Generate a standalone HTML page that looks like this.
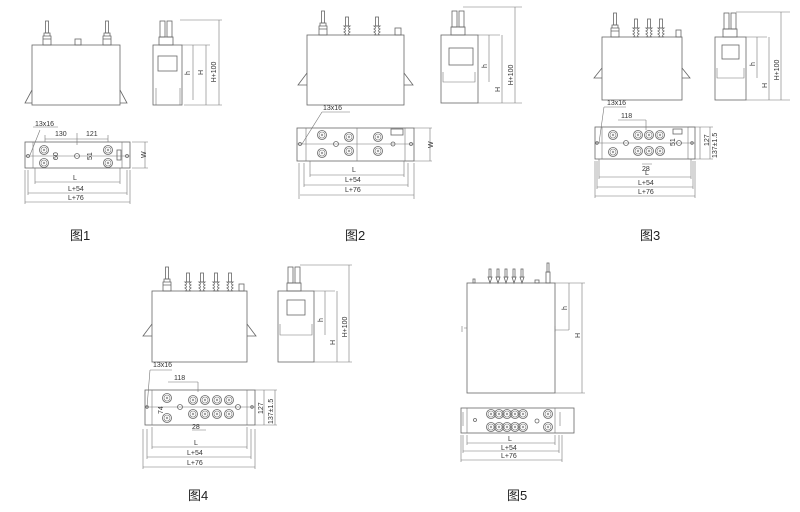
<!DOCTYPE html>
<html><head><meta charset="utf-8"><style>
html,body{margin:0;padding:0;background:#fff;}
svg{display:block}
text{font-family:"Liberation Sans","Noto Sans CJK SC",sans-serif;fill:#333}
.s{fill:none;stroke:#666;stroke-width:0.8}
.t{fill:none;stroke:#777;stroke-width:0.6}
.cap{font-size:13px;fill:#222}
.d{font-size:7px}
</style></head><body>
<svg width="800" height="512" viewBox="0 0 800 512" xmlns="http://www.w3.org/2000/svg">
<defs>
<g id="post"><rect x="-1.5" y="-24" width="3" height="12" class="s"/><path d="M-3 -12h6v3h-6zM-4 -9h8v3h-8zM-4 -6h8v6h-8z" class="s"/></g>
<g id="pin"><rect x="-1.5" y="-18" width="3" height="9" class="s"/><path d="M-3 -9q3 2 0 3q3 2 0 3q3 2 0 3h6q-3-1 0-3q-3-1 0-3q-3-1 0-3z" class="s"/></g>
<g id="bush"><circle r="4.5" class="s"/><circle r="3" class="t"/><circle r="0.9" class="t"/></g>
<g id="big"><rect x="-7" y="-8" width="14" height="8" class="s"/><rect x="-6" y="-24" width="5" height="16" class="s"/><rect x="1" y="-24" width="5" height="16" class="s"/></g>
</defs>

<!-- FIG 1 -->
<rect x="32" y="45" width="88" height="60" class="s"/>
<path d="M32 90 L25 103 H32 M120 90 L127 103 H120" class="s"/>
<use href="#post" x="47" y="45"/>
<rect x="75" y="39" width="6" height="6" class="s"/>
<use href="#post" x="107" y="45"/>
<rect x="153" y="45" width="29" height="60" class="s"/><rect x="158" y="56" width="19" height="15" class="s"/>
<path d="M156 88v17M180 88v17" class="t"/>
<use href="#big" x="166" y="45"/>
<path d="M180 20H222M182 45H210M184 105H222M193 45v55M206 45v60M219 20v85" class="t"/>
<text class="d" transform="translate(190,75) rotate(-90)">h</text>
<text class="d" transform="translate(203,75) rotate(-90)">H</text>
<text class="d" transform="translate(216,72) rotate(-90)" text-anchor="middle">H+100</text>
<rect x="25" y="142" width="105" height="26" class="s"/><path d="M33 142v26M122 142v26M25 156h105" class="t"/>
<use href="#bush" x="44" y="150"/><use href="#bush" x="44" y="163"/>
<use href="#bush" x="108" y="150"/><use href="#bush" x="108" y="163"/>
<circle cx="77" cy="156" r="2.5" class="s"/><circle cx="28" cy="156" r="1.5" class="s"/><circle cx="127" cy="156" r="1.5" class="s"/>
<rect x="117" y="150" width="4" height="10" class="s"/>
<path d="M45 135V142M77 133V145M108 135V142M45 139H108M145 142v26M132 142h16M132 168h16M35 168v16M120 168v16M35 182H120M28 193H127M25 202H130M28 170v25M127 170v25M25 170v34M130 170v34M40 130L30 155M33 127H58" class="t"/>
<text class="d" x="35" y="126">13x16</text><text class="d" x="55" y="136">130</text><text class="d" x="86" y="136">121</text>
<text class="d" transform="translate(58,160) rotate(-90)">60</text><text class="d" transform="translate(92,160) rotate(-90)">51</text>
<text class="d" transform="translate(146,158) rotate(-90)">W</text>
<text class="d" x="73" y="180">L</text><text class="d" x="68" y="191">L+54</text><text class="d" x="68" y="200">L+76</text>
<text class="cap" x="70" y="240">图1</text>

<!-- FIG 2 -->
<rect x="307" y="35" width="97" height="70" class="s"/>
<path d="M307 73l-9 12h9M404 73l9 12h-9" class="s"/>
<use href="#post" x="323" y="35"/>
<use href="#pin" x="347" y="35"/><use href="#pin" x="377" y="35"/>
<rect x="395" y="28" width="6" height="7" class="s"/>
<rect x="441" y="35" width="37" height="68" class="s"/><rect x="449" y="48" width="24" height="17" class="s"/>
<path d="M443 72v10h32v-10M443 82h32" class="t"/>
<use href="#big" x="458" y="35"/>
<path d="M463 7H522M478 35H500M478 103H522M489 35v47M502 35v68M515 7v96" class="t"/>
<text class="d" transform="translate(487,68) rotate(-90)">h</text>
<text class="d" transform="translate(500,92) rotate(-90)">H</text>
<text class="d" transform="translate(513,75) rotate(-90)" text-anchor="middle">H+100</text>
<rect x="297" y="128" width="117" height="33" class="s"/><path d="M306 128v33M405 128v33M357 128v33M297 144h117" class="t"/>
<use href="#bush" x="322" y="135"/><use href="#bush" x="322" y="153"/>
<use href="#bush" x="349" y="137"/><use href="#bush" x="349" y="151"/>
<use href="#bush" x="378" y="137"/><use href="#bush" x="378" y="151"/>
<circle cx="336" cy="144" r="2.5" class="s"/><circle cx="393" cy="144" r="2" class="s"/><circle cx="300" cy="144" r="1.5" class="s"/><circle cx="411" cy="144" r="1.5" class="s"/><rect x="391" y="129" width="12" height="6" class="s"/>
<path d="M414 128h18M414 161h18M430 128v33M310 161v16M404 161v16M310 175H404M304 185H408M300 195H414M304 163v24M408 163v24M299 163v36M414 163v36M302 144L322 112M322 112H350" class="t"/>
<text class="d" x="323" y="110">13x16</text><text class="d" transform="translate(433,148) rotate(-90)" font-size="8">W</text>
<text class="d" x="352" y="172">L</text><text class="d" x="345" y="182">L+54</text><text class="d" x="345" y="192">L+76</text>
<text class="cap" x="345" y="240">图2</text>

<!-- FIG 3 -->
<rect x="602" y="37" width="80" height="63" class="s"/>
<path d="M602 68l-8 10h8M682 68l8 10h-8" class="s"/>
<use href="#post" x="615" y="37"/>
<use href="#pin" x="636" y="37"/><use href="#pin" x="649" y="37"/><use href="#pin" x="661" y="37"/>
<rect x="676" y="30" width="5" height="7" class="s"/>
<rect x="715" y="37" width="31" height="63" class="s"/><rect x="722" y="45" width="17" height="14" class="s"/>
<path d="M717 68v10h27v-10M717 78h27" class="t"/>
<use href="#big" x="730" y="37"/>
<path d="M736 12H790M746 37H767M746 100H790M757 37v41M769 37v63M781 12v88" class="t"/>
<text class="d" transform="translate(755,66) rotate(-90)">h</text>
<text class="d" transform="translate(767,88) rotate(-90)">H</text>
<text class="d" transform="translate(779,70) rotate(-90)" text-anchor="middle">H+100</text>
<rect x="595" y="127" width="100" height="32" class="s"/><path d="M602 127v32M688 127v32M595 143h100" class="t"/>
<use href="#bush" x="613" y="135"/><use href="#bush" x="613" y="152"/>
<use href="#bush" x="638" y="135"/><use href="#bush" x="649" y="135"/><use href="#bush" x="660" y="135"/>
<use href="#bush" x="638" y="151"/><use href="#bush" x="649" y="151"/><use href="#bush" x="660" y="151"/>
<circle cx="626" cy="143" r="2.5" class="s"/><circle cx="679" cy="143" r="2.5" class="s"/><rect x="673" y="129" width="9" height="5" class="s"/><circle cx="597" cy="143" r="1.3" class="s"/><circle cx="692" cy="143" r="1.3" class="s"/>
<path d="M688 127h25M688 159h25M700 127v32M710 127v32M599 159v20M691 159v20M599 177H691M597 187H693M595 196H695M597 161v28M693 161v28M595 161v37M695 161v37M599 143L604 107M604 107H626M618 120H646M646 120v10M642 164h10" class="t"/>
<text class="d" x="607" y="105">13x16</text><text class="d" x="621" y="118">118</text>
<text class="d" x="642" y="171">28</text><text class="d" transform="translate(675,146) rotate(-90)">51</text>
<text class="d" transform="translate(709,146) rotate(-90)">127</text><text class="d" transform="translate(717,158) rotate(-90)" font-size="6">137±1.5</text>
<text class="d" x="645" y="175">L</text><text class="d" x="638" y="185">L+54</text><text class="d" x="638" y="194">L+76</text>
<text class="cap" x="640" y="240">图3</text>

<!-- FIG 4 -->
<rect x="152" y="291" width="95" height="71" class="s"/>
<path d="M152 324l-9 12h9M247 324l9 12h-9" class="s"/>
<use href="#post" x="167" y="291"/>
<use href="#pin" x="188" y="291"/><use href="#pin" x="202" y="291"/><use href="#pin" x="216" y="291"/><use href="#pin" x="230" y="291"/>
<rect x="239" y="284" width="5" height="7" class="s"/>
<rect x="278" y="291" width="36" height="71" class="s"/><rect x="287" y="300" width="18" height="15" class="s"/>
<path d="M280 324v11h32v-11M280 335h32" class="t"/>
<use href="#big" x="294" y="291"/>
<path d="M300 265H352M314 291H335M314 362H352M325 291v44M337 291v71M349 265v97" class="t"/>
<text class="d" transform="translate(323,322) rotate(-90)">h</text>
<text class="d" transform="translate(335,345) rotate(-90)">H</text>
<text class="d" transform="translate(347,327) rotate(-90)" text-anchor="middle">H+100</text>
<rect x="145" y="390" width="110" height="35" class="s"/><path d="M152 390v35M247 390v35M145 407h110" class="t"/>
<use href="#bush" x="167" y="398"/><use href="#bush" x="167" y="418"/>
<use href="#bush" x="193" y="400"/><use href="#bush" x="205" y="400"/><use href="#bush" x="217" y="400"/><use href="#bush" x="229" y="400"/>
<use href="#bush" x="193" y="414"/><use href="#bush" x="205" y="414"/><use href="#bush" x="217" y="414"/><use href="#bush" x="229" y="414"/>
<circle cx="180" cy="407" r="2.5" class="s"/><circle cx="238" cy="407" r="2.5" class="s"/><circle cx="147" cy="407" r="1.3" class="s"/><circle cx="252" cy="407" r="1.3" class="s"/>
<path d="M255 390h22M255 425h22M264 390v35M275 390v35M152 427v22M247 427v22M152 447H247M147 457H251M143 467H255M147 429v30M251 429v30M143 429v40M255 429v40M147 407L150 370M150 370H172M168 382H198M198 382v10M192 430h14" class="t"/>
<text class="d" x="153" y="367">13x16</text><text class="d" x="174" y="380">118</text>
<text class="d" x="192" y="429">28</text><text class="d" transform="translate(163,414) rotate(-90)" font-size="6">74</text>
<text class="d" transform="translate(263,414) rotate(-90)">127</text><text class="d" transform="translate(273,424) rotate(-90)" font-size="6">137±1.5</text>
<text class="d" x="194" y="445">L</text><text class="d" x="187" y="455">L+54</text><text class="d" x="187" y="465">L+76</text>
<text class="cap" x="188" y="500">图4</text>

<!-- FIG 5 -->
<rect x="467" y="283" width="88" height="110" class="s"/>
<path d="M555 283H585M555 393H585M555 330h14M569 283v47M582 283v110M467 328h-3M462 326v6M555 326v6" class="t"/>
<text class="d" transform="translate(567,310) rotate(-90)">h</text>
<text class="d" transform="translate(580,338) rotate(-90)">H</text>
<g class="s">
<path d="M490 283l-2-6h4zM498 283l-2-6h4zM506 283l-2-6h4zM514 283l-2-6h4zM522 283l-2-6h4z"/>
<rect x="489" y="269" width="2" height="8"/><rect x="497" y="269" width="2" height="8"/><rect x="505" y="269" width="2" height="8"/><rect x="513" y="269" width="2" height="8"/><rect x="521" y="269" width="2" height="8"/>
<rect x="546" y="272" width="4" height="11"/><rect x="547" y="263" width="2" height="9"/>
<rect x="473" y="279" width="2" height="4"/><rect x="535" y="280" width="4" height="3"/>
</g>
<rect x="461" y="408" width="113" height="25" class="s"/><path d="M467 408v25M555 408v25" class="t"/>
<use href="#bush" x="491" y="414"/><use href="#bush" x="499" y="414"/><use href="#bush" x="507" y="414"/><use href="#bush" x="515" y="414"/><use href="#bush" x="523" y="414"/>
<use href="#bush" x="491" y="427"/><use href="#bush" x="499" y="427"/><use href="#bush" x="507" y="427"/><use href="#bush" x="515" y="427"/><use href="#bush" x="523" y="427"/>
<use href="#bush" x="548" y="414"/><use href="#bush" x="548" y="427"/>
<circle cx="475" cy="420" r="1.5" class="s"/><circle cx="537" cy="421" r="2" class="s"/>
<path d="M463 412v14M560 412v14" class="t"/>
<path d="M467 435v10M555 435v10M467 443H555M463 451H559M461 460H562M463 435v18M559 435v18M461 435v27M562 435v27" class="t"/>
<text class="d" x="508" y="441">L</text><text class="d" x="501" y="450">L+54</text><text class="d" x="501" y="458">L+76</text>
<text class="cap" x="507" y="500">图5</text>
</svg>
</body></html>
